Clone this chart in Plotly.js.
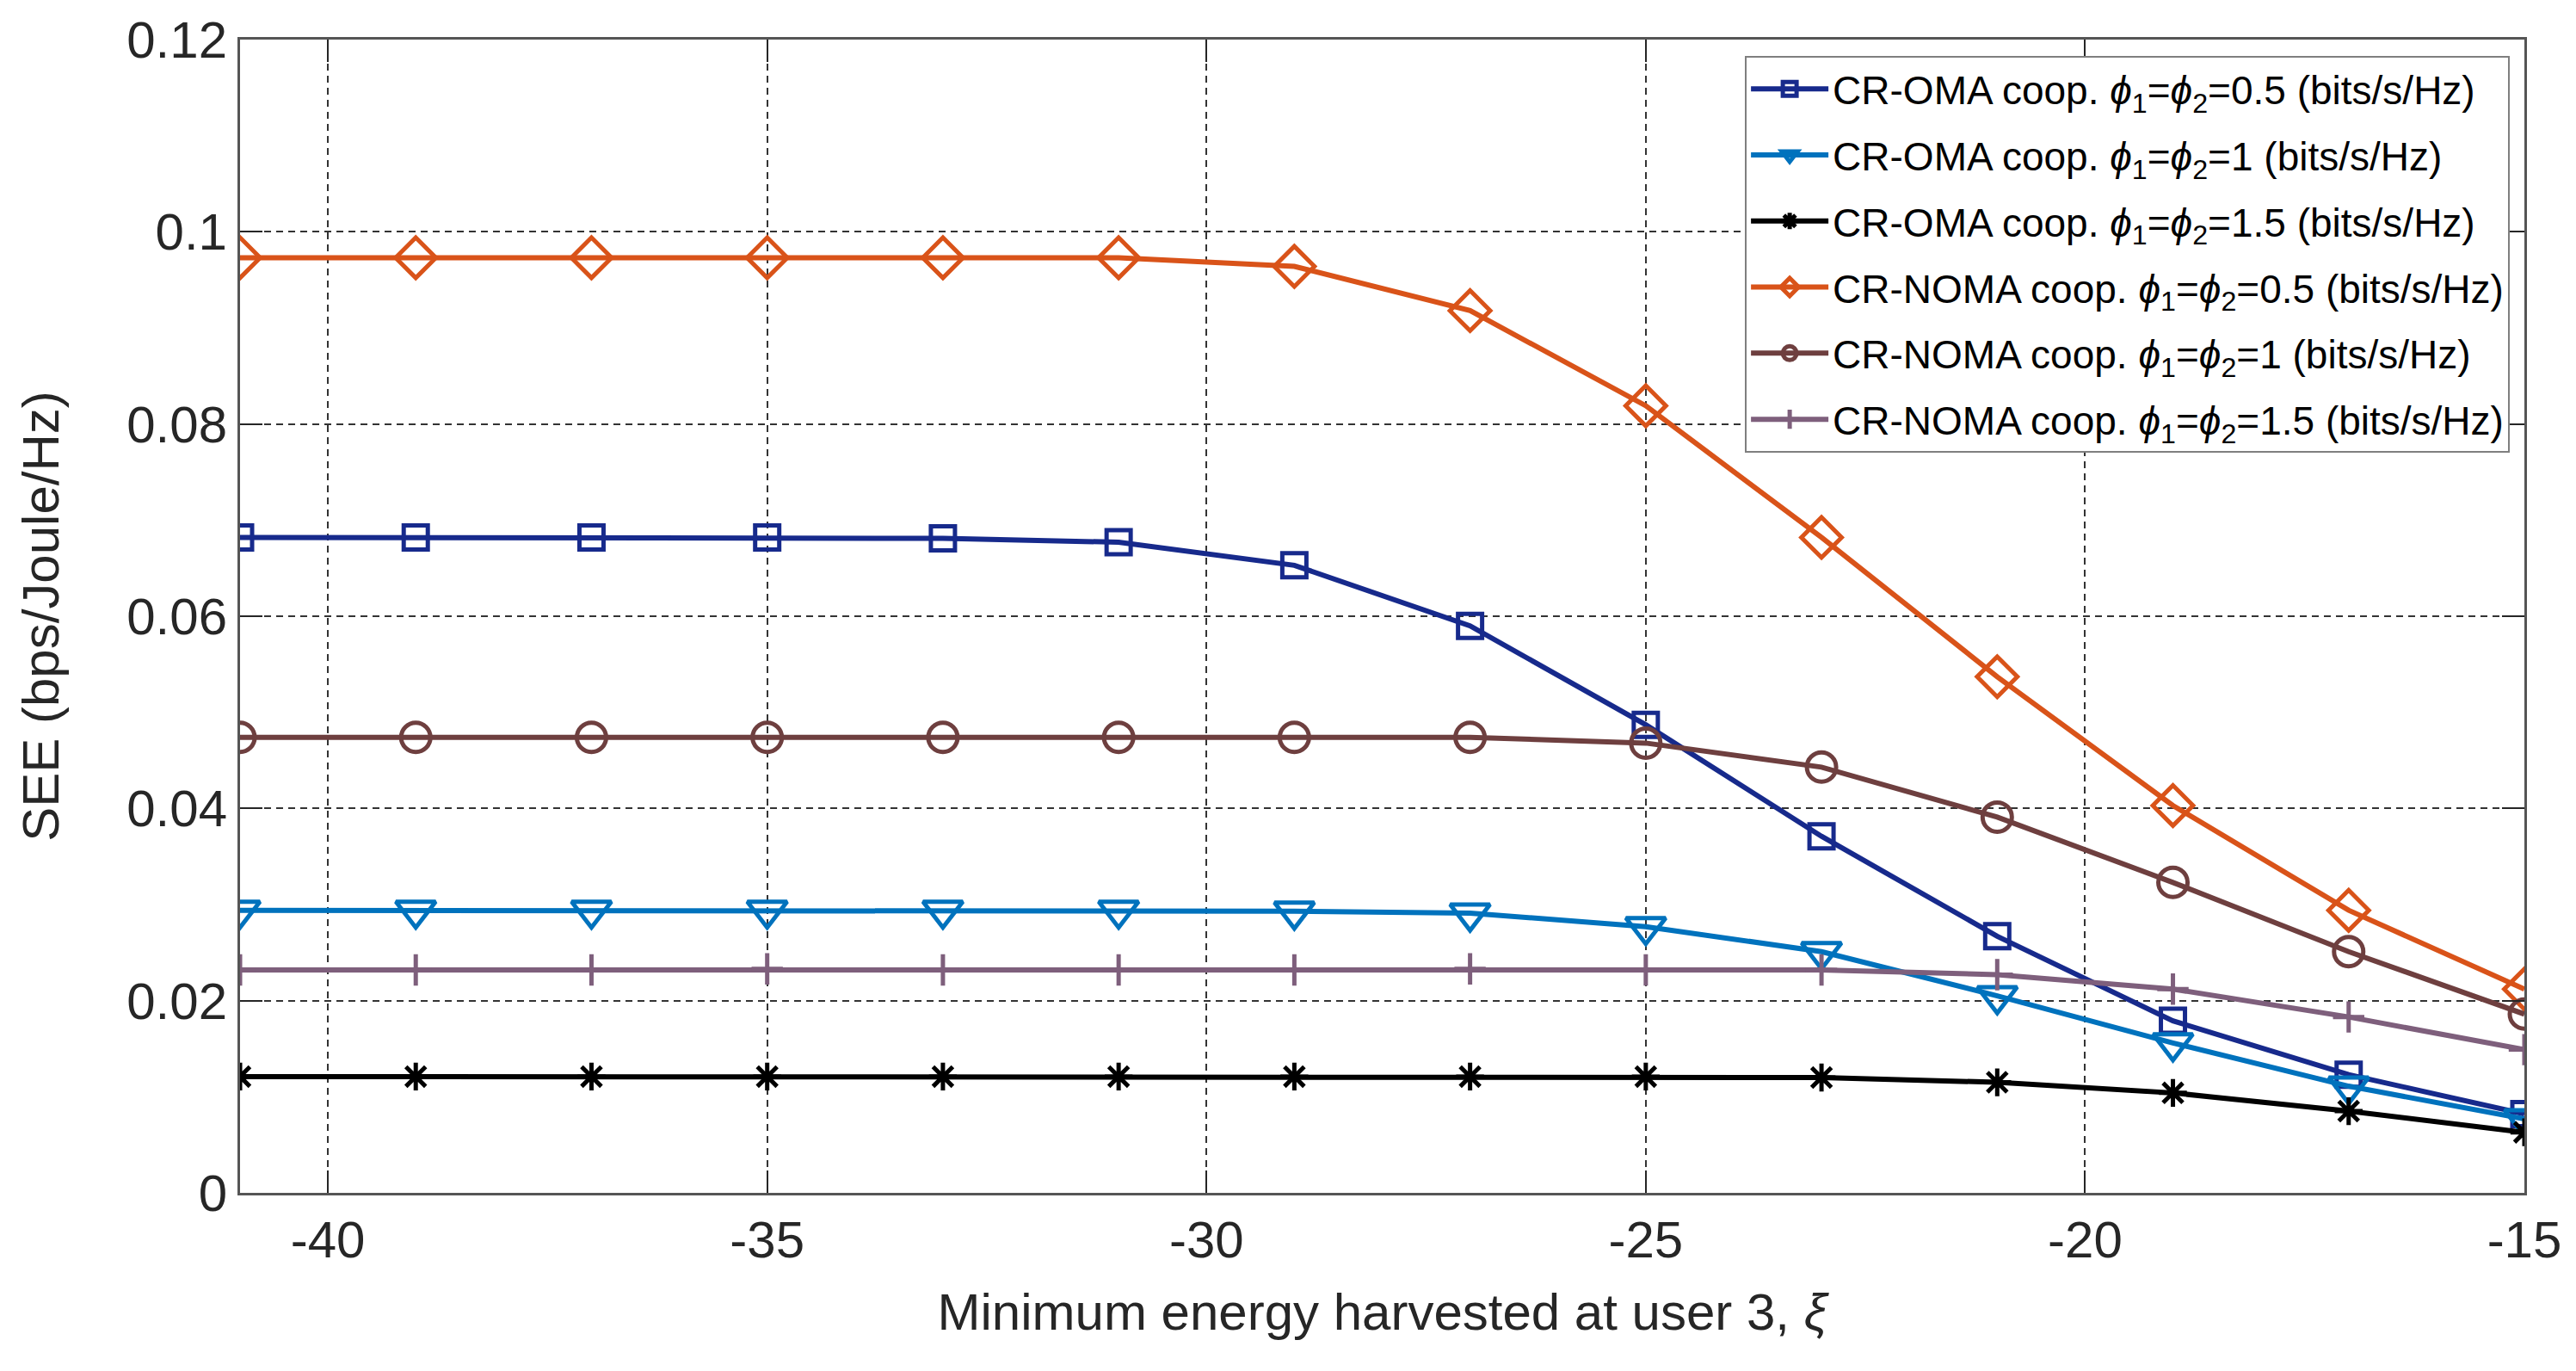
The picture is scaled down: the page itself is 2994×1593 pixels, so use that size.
<!DOCTYPE html>
<html>
<head>
<meta charset="utf-8">
<script src="https://cdn.plot.ly/plotly-3.0.1.min.js"></script>
<style>
  html, body { margin: 0; padding: 0; background: #ffffff; }
  #chart { width: 2994px; height: 1593px; }
</style>
</head>
<body>
<div id="chart"></div>
<script>
// ---- data ----
var xi = [-41, -39, -37, -35, -33, -31, -29, -27, -25, -23, -21, -19, -17, -15];

var omaPhi05  = [0.0682, 0.0682, 0.0682, 0.0682, 0.0681, 0.0677, 0.0653, 0.0590, 0.0487, 0.0371, 0.0267, 0.0179, 0.0123, 0.0082];
var omaPhi1   = [0.0294, 0.0294, 0.0294, 0.0294, 0.0294, 0.0294, 0.0293, 0.0291, 0.0277, 0.0251, 0.0205, 0.0156, 0.0111, 0.0077];
var omaPhi15  = [0.0121, 0.0121, 0.0121, 0.0121, 0.0121, 0.0121, 0.0121, 0.0121, 0.0121, 0.0120, 0.0115, 0.0104, 0.0085, 0.0063];
var nomaPhi05 = [0.0973, 0.0973, 0.0973, 0.0973, 0.0973, 0.0973, 0.0964, 0.0918, 0.0819, 0.0682, 0.0537, 0.0403, 0.0294, 0.0212];
var nomaPhi1  = [0.0474, 0.0474, 0.0474, 0.0474, 0.0474, 0.0474, 0.0474, 0.0474, 0.0468, 0.0443, 0.0391, 0.0323, 0.0251, 0.0186];
var nomaPhi15 = [0.0232, 0.0232, 0.0232, 0.0233, 0.0232, 0.0232, 0.0232, 0.0233, 0.0232, 0.0232, 0.0227, 0.0212, 0.0183, 0.0149];

var seriesNames = [
  'CR-OMA coop. <i>ϕ</i><sub>1</sub>=<i>ϕ</i><sub>2</sub>=0.5 (bits/s/Hz)',
  'CR-OMA coop. <i>ϕ</i><sub>1</sub>=<i>ϕ</i><sub>2</sub>=1 (bits/s/Hz)',
  'CR-OMA coop. <i>ϕ</i><sub>1</sub>=<i>ϕ</i><sub>2</sub>=1.5 (bits/s/Hz)',
  'CR-NOMA coop. <i>ϕ</i><sub>1</sub>=<i>ϕ</i><sub>2</sub>=0.5 (bits/s/Hz)',
  'CR-NOMA coop. <i>ϕ</i><sub>1</sub>=<i>ϕ</i><sub>2</sub>=1 (bits/s/Hz)',
  'CR-NOMA coop. <i>ϕ</i><sub>1</sub>=<i>ϕ</i><sub>2</sub>=1.5 (bits/s/Hz)'
];
var seriesValues = [omaPhi05, omaPhi1, omaPhi15, nomaPhi05, nomaPhi1, nomaPhi15];

var yTickVals = [0, 0.02, 0.04, 0.06, 0.08, 0.1, 0.12];
var yTickText = ['0', '0.02', '0.04', '0.06', '0.08', '0.1', '0.12'];
var xTickVals = [-40, -35, -30, -25, -20, -15];
var xTickText = ['-40', '-35', '-30', '-25', '-20', '-15'];

// ---- styles ----
var colors  = ['#172a8c', '#0072bd', '#000000', '#d95319', '#6e3f3f', '#7e5f7c'];
var symbols = ['square-open', 'triangle-down-open', 'asterisk-open', 'diamond-open', 'circle-open', 'cross-thin-open'];
var sizes   = [28, 40, 27, 36, 34, 26];

var traces = seriesValues.map(function (vals, i) {
  return {
    x: xi,
    y: vals,
    type: 'scatter',
    mode: 'lines+markers',
    name: seriesNames[i],
    legendgroup: 'g' + i,
    line: { color: colors[i], width: 6 },
    marker: { symbol: symbols[i], size: sizes[i], color: colors[i],
              line: { color: colors[i], width: 5 } }
  };
});

var font = 'Liberation Sans, Arial, Helvetica, sans-serif';

var layout = {
  width: 2994,
  height: 1593,
  margin: { l: 279, r: 60, t: 46, b: 207 },
  paper_bgcolor: '#ffffff',
  plot_bgcolor: '#ffffff',
  font: { family: font, size: 60, color: '#262626' },
  showlegend: true,
  legend: {
    x: 0.6588, y: 0.986, xanchor: 'left', yanchor: 'top',
    bgcolor: '#ffffff', bordercolor: '#7f7f7f', borderwidth: 2,
    font: { family: font, size: 46, color: '#000000' },
    tracegroupgap: 14,
    itemwidth: 90
  },
  xaxis: {
    range: [-41, -15],
    tickvals: xTickVals,
    ticktext: xTickText,
    ticks: 'inside', ticklen: 26, tickwidth: 2, tickcolor: '#262626',
    showline: true, linecolor: '#555555', linewidth: 3, mirror: 'ticks',
    showgrid: true, gridcolor: '#333333', gridwidth: 2, griddash: '8px,6px',
    zeroline: false,
    tickfont: { size: 60, color: '#262626' },
    title: { text: 'Minimum energy harvested at user 3, <i>ξ</i>', font: { size: 60, color: '#262626' }, standoff: 30 }
  },
  yaxis: {
    range: [0, 0.12],
    tickvals: yTickVals,
    ticktext: yTickText,
    ticks: 'inside', ticklen: 26, tickwidth: 2, tickcolor: '#262626',
    showline: true, linecolor: '#555555', linewidth: 3, mirror: 'ticks',
    showgrid: true, gridcolor: '#333333', gridwidth: 2, griddash: '8px,6px',
    zeroline: false,
    tickfont: { size: 60, color: '#262626' },
    title: { text: 'SEE (bps/Joule/Hz)', font: { size: 60, color: '#262626' }, standoff: 60 }
  }
};

Plotly.newPlot('chart', traces, layout, { displayModeBar: false, staticPlot: true });
</script>
</body>
</html>
